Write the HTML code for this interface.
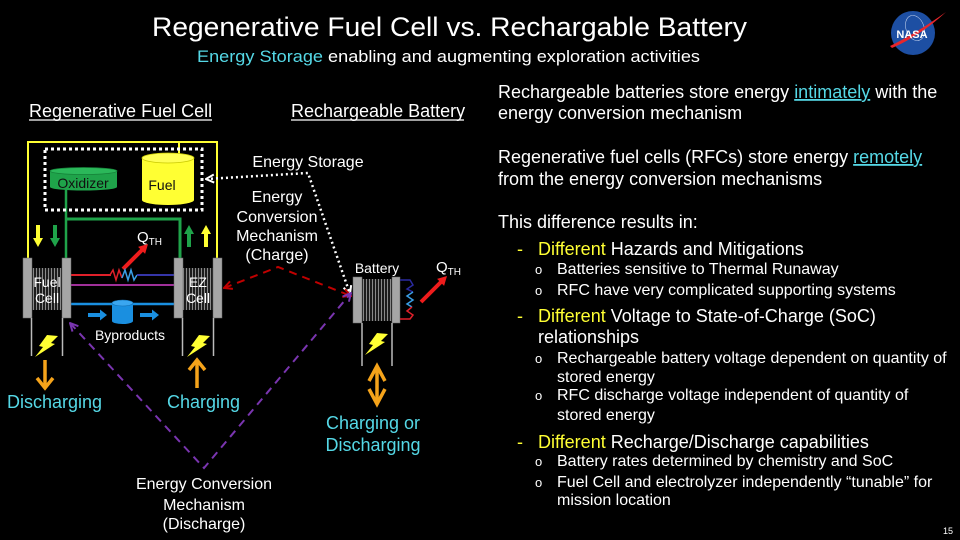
<!DOCTYPE html>
<html>
<head>
<meta charset="utf-8">
<style>
html,body{margin:0;padding:0;background:#000;}
svg{display:block;font-family:"Liberation Sans",Arial,sans-serif;}
</style>
</head>
<body>
<svg width="960" height="540" viewBox="0 0 960 540" xmlns="http://www.w3.org/2000/svg">
<defs>
  <pattern id="stripes" width="3" height="10" patternUnits="userSpaceOnUse">
    <rect width="3" height="10" fill="#1c1c1c"/>
    <rect x="0" width="1" height="10" fill="#8a8a8a"/>
  </pattern>
  <marker id="mw" viewBox="0 0 10 10" refX="9" refY="5" markerWidth="10" markerHeight="10" markerUnits="userSpaceOnUse" orient="auto-start-reverse">
    <path d="M1,1 L9,5 L1,9" fill="none" stroke="#fff" stroke-width="2"/>
  </marker>
  <marker id="mr" viewBox="0 0 10 10" refX="9" refY="5" markerWidth="10" markerHeight="10" markerUnits="userSpaceOnUse" orient="auto-start-reverse">
    <path d="M1,1 L9,5 L1,9" fill="none" stroke="#c00000" stroke-width="2"/>
  </marker>
  <marker id="mp" viewBox="0 0 10 10" refX="9" refY="5" markerWidth="10" markerHeight="10" markerUnits="userSpaceOnUse" orient="auto-start-reverse">
    <path d="M1,1 L9,5 L1,9" fill="none" stroke="#7a35b0" stroke-width="2"/>
  </marker>
</defs>

<rect width="960" height="540" fill="#000"/>

<!-- Title -->
<text x="152" y="36" font-size="27" fill="#fff" textLength="595" lengthAdjust="spacingAndGlyphs">Regenerative Fuel Cell vs. Rechargable Battery</text>
<text x="197" y="62" font-size="17" fill="#fff" textLength="503" lengthAdjust="spacingAndGlyphs"><tspan fill="#55d8e6">Energy Storage</tspan> enabling and augmenting exploration activities</text>

<!-- NASA logo -->
<circle cx="913" cy="33" r="22" fill="#1d4fa3"/>
<ellipse cx="915" cy="28" rx="9" ry="13" fill="none" stroke="#b8c8e8" stroke-width="0.6" transform="rotate(-20 915 28)"/>
<path d="M890 46 Q915 34 946 12 Q920 36 892 48 Z" fill="#e8262b"/>
<text x="912" y="38" font-size="11" font-weight="bold" fill="#fff" text-anchor="middle">NASA</text>

<!-- Left headings -->
<text x="29" y="117" font-size="18" fill="#fff">Regenerative Fuel Cell</text>
<line x1="29" y1="120" x2="212" y2="120" stroke="#fff" stroke-width="1.3"/>
<text x="291" y="117" font-size="18" fill="#fff">Rechargeable Battery</text>
<line x1="291" y1="120" x2="464" y2="120" stroke="#fff" stroke-width="1.3"/>

<!-- Yellow outer loop -->
<polyline points="28,258 28,142 217,142 217,258" fill="none" stroke="#ffff33" stroke-width="2"/>
<line x1="179" y1="142" x2="179" y2="154" stroke="#ffff33" stroke-width="2"/>

<!-- Green lines -->
<line x1="66" y1="188" x2="66" y2="258" stroke="#1fa34a" stroke-width="2.5"/>
<polyline points="66,219 180,219 180,258" fill="none" stroke="#1fa34a" stroke-width="3"/>

<!-- Dotted storage box -->
<rect x="45" y="149" width="157" height="61" fill="none" stroke="#fff" stroke-width="3" stroke-dasharray="3 3"/>

<!-- Oxidizer cylinder -->
<rect x="50" y="171" width="67" height="16" fill="#1fa34a"/>
<ellipse cx="83.5" cy="187" rx="33.5" ry="3.5" fill="#1fa34a"/>
<ellipse cx="83.5" cy="171" rx="33.5" ry="3.5" fill="#2bb85a" stroke="#158038" stroke-width="0.8"/>
<text x="83" y="188" font-size="14" fill="#111" text-anchor="middle">Oxidizer</text>

<!-- Fuel cylinder -->
<rect x="142" y="158" width="52" height="42" fill="#ffff33"/>
<ellipse cx="168" cy="200" rx="26" ry="5" fill="#ffff33"/>
<ellipse cx="168" cy="158" rx="26" ry="5" fill="#ffff55" stroke="#c9c900" stroke-width="0.8"/>
<text x="162" y="190" font-size="14" fill="#111" text-anchor="middle">Fuel</text>

<!-- small arrows -->
<rect x="36" y="225" width="4" height="14" fill="#ffff33"/>
<polygon points="33,238 43,238 38,247" fill="#ffff33"/>
<rect x="53" y="225" width="4" height="14" fill="#1fa34a"/>
<polygon points="50,238 60,238 55,247" fill="#1fa34a"/>
<rect x="187" y="233" width="4" height="14" fill="#1fa34a"/>
<polygon points="184,234 194,234 189,225" fill="#1fa34a"/>
<rect x="204" y="233" width="4" height="14" fill="#ffff33"/>
<polygon points="201,234 211,234 206,225" fill="#ffff33"/>

<!-- Q_TH left -->
<text x="137" y="242" font-size="15" fill="#fff">Q<tspan font-size="10" dy="3">TH</tspan></text>
<line x1="123" y1="269" x2="142" y2="250" stroke="#ee1c1c" stroke-width="4"/>
<polygon points="148,244 145.1,253.9 138.1,246.9" fill="#ee1c1c"/>

<!-- Lines between cells -->
<line x1="71" y1="275" x2="111" y2="275" stroke="#e0202a" stroke-width="2"/>
<polyline points="110,275 113,270 116,280 119,270 122,278" fill="none" stroke="#e0202a" stroke-width="1.5"/>
<polyline points="122,278 125,270 128,280 131,270 134,280 137,275" fill="none" stroke="#3a9fe6" stroke-width="1.5"/>
<line x1="137" y1="275" x2="174" y2="275" stroke="#3535a8" stroke-width="2"/>
<line x1="71" y1="285" x2="174" y2="285" stroke="#a0309a" stroke-width="2"/>
<line x1="71" y1="304" x2="174" y2="304" stroke="#1a8fe0" stroke-width="2.5"/>

<!-- Byproducts cylinder -->
<rect x="112" y="303" width="21" height="18" fill="#1a8fe0"/>
<ellipse cx="122.5" cy="321" rx="10.5" ry="3" fill="#1a8fe0"/>
<ellipse cx="122.5" cy="303" rx="10.5" ry="3" fill="#3aa6f0" stroke="#106cb0" stroke-width="0.6"/>
<rect x="88" y="313" width="12" height="4" fill="#1a8fe0"/>
<polygon points="100,309.5 100,320.5 107,315" fill="#1a8fe0"/>
<rect x="140" y="313" width="12" height="4" fill="#1a8fe0"/>
<polygon points="152,309.5 152,320.5 159,315" fill="#1a8fe0"/>
<text x="130" y="340" font-size="14" fill="#fff" text-anchor="middle">Byproducts</text>

<!-- Fuel cell -->
<rect x="32" y="268" width="30" height="42" fill="url(#stripes)"/>
<rect x="23" y="258" width="9" height="60" fill="#a6a6a6" stroke="#666" stroke-width="0.5"/>
<rect x="62" y="258" width="9" height="60" fill="#a6a6a6" stroke="#666" stroke-width="0.5"/>
<line x1="31.5" y1="318" x2="31.5" y2="356" stroke="#bbb" stroke-width="1.5"/>
<line x1="62.5" y1="318" x2="62.5" y2="356" stroke="#bbb" stroke-width="1.5"/>
<text x="47" y="287" font-size="14" fill="#fff" text-anchor="middle">Fuel</text>
<text x="47" y="303" font-size="14" fill="#fff" text-anchor="middle">Cell</text>

<!-- EZ cell -->
<rect x="183" y="268" width="30" height="42" fill="url(#stripes)"/>
<rect x="174" y="258" width="9" height="60" fill="#a6a6a6" stroke="#666" stroke-width="0.5"/>
<rect x="213" y="258" width="9" height="60" fill="#a6a6a6" stroke="#666" stroke-width="0.5"/>
<line x1="182.5" y1="318" x2="182.5" y2="356" stroke="#bbb" stroke-width="1.5"/>
<line x1="213.5" y1="318" x2="213.5" y2="356" stroke="#bbb" stroke-width="1.5"/>
<text x="198" y="287" font-size="14" fill="#fff" text-anchor="middle">EZ</text>
<text x="198" y="303" font-size="14" fill="#fff" text-anchor="middle">Cell</text>

<!-- Lightning bolts -->
<polygon transform="translate(35,335)" points="12,0 23,1 16,8 20,9 0,22 8,12 4,11" fill="#ffff33"/>
<polygon transform="translate(187,335)" points="12,0 23,1 16,8 20,9 0,22 8,12 4,11" fill="#ffff33"/>
<polygon transform="translate(365,333)" points="12,0 23,1 16,8 20,9 0,22 8,12 4,11" fill="#ffff33"/>

<!-- Orange arrows -->
<line x1="45" y1="360" x2="45" y2="386" stroke="#f5a31a" stroke-width="3.5"/>
<polyline points="37,378 45,388 53,378" fill="none" stroke="#f5a31a" stroke-width="3.5"/>
<line x1="197" y1="362" x2="197" y2="388" stroke="#f5a31a" stroke-width="3.5"/>
<polyline points="189,370 197,360 205,370" fill="none" stroke="#f5a31a" stroke-width="3.5"/>
<line x1="377" y1="367" x2="377" y2="403" stroke="#f5a31a" stroke-width="3.5"/>
<polyline points="369,381 377,366 385,381" fill="none" stroke="#f5a31a" stroke-width="3.5"/>
<polyline points="369,389 377,404 385,389" fill="none" stroke="#f5a31a" stroke-width="3.5"/>

<text x="7" y="408" font-size="18" fill="#55d8e6">Discharging</text>
<text x="167" y="408" font-size="18" fill="#55d8e6">Charging</text>
<text x="373" y="429" font-size="18" fill="#55d8e6" text-anchor="middle">Charging or</text>
<text x="373" y="451" font-size="18" fill="#55d8e6" text-anchor="middle">Discharging</text>

<!-- Battery -->
<rect x="362" y="279" width="30" height="42" fill="url(#stripes)"/>
<rect x="353" y="277" width="9" height="46" fill="#a6a6a6" stroke="#666" stroke-width="0.5"/>
<rect x="392" y="277" width="8" height="46" fill="#a6a6a6" stroke="#666" stroke-width="0.5"/>
<line x1="362" y1="323" x2="362" y2="366" stroke="#bbb" stroke-width="1.5"/>
<line x1="392" y1="323" x2="392" y2="366" stroke="#bbb" stroke-width="1.5"/>
<text x="377" y="273" font-size="14" fill="#fff" text-anchor="middle">Battery</text>
<polyline points="400,280 410,280 413,285 407,289 413,292" fill="none" stroke="#2a2aa0" stroke-width="1.5"/>
<polyline points="413,292 407,296 413,300 407,304 412,307" fill="none" stroke="#3a9fe6" stroke-width="1.5"/>
<polyline points="412,307 407,311 413,315 410,319 400,319" fill="none" stroke="#e0202a" stroke-width="1.5"/>
<text x="436" y="272" font-size="15" fill="#fff">Q<tspan font-size="10" dy="3">TH</tspan></text>
<line x1="421" y1="302" x2="441" y2="282" stroke="#ee1c1c" stroke-width="4"/>
<polygon points="447,276 444.1,285.9 437.1,278.9" fill="#ee1c1c"/>

<!-- Connectors -->
<polyline points="206,179 308,173 350,294" fill="none" stroke="#fff" stroke-width="2.5" stroke-dasharray="2 3" marker-start="url(#mw)" marker-end="url(#mw)"/>
<polyline points="224,288 278,267 351,296" fill="none" stroke="#c00000" stroke-width="2" stroke-dasharray="8 6" marker-start="url(#mr)" marker-end="url(#mr)"/>
<polyline points="70,323 204,468 351,293" fill="none" stroke="#7a35b0" stroke-width="2" stroke-dasharray="8 6" marker-start="url(#mp)" marker-end="url(#mp)"/>

<!-- connector labels -->
<text x="308" y="167" font-size="16" fill="#fff" text-anchor="middle">Energy Storage</text>
<text x="277" y="202" font-size="16" fill="#fff" text-anchor="middle">Energy</text>
<text x="277" y="222" font-size="16" fill="#fff" text-anchor="middle">Conversion</text>
<text x="277" y="241" font-size="16" fill="#fff" text-anchor="middle">Mechanism</text>
<text x="277" y="260" font-size="16" fill="#fff" text-anchor="middle">(Charge)</text>
<text x="204" y="489" font-size="16" fill="#fff" text-anchor="middle">Energy Conversion</text>
<text x="204" y="510" font-size="16" fill="#fff" text-anchor="middle">Mechanism</text>
<text x="204" y="529" font-size="16" fill="#fff" text-anchor="middle">(Discharge)</text>

<!-- Right column -->
<g font-size="18" fill="#fff">
  <text x="498" y="98">Rechargeable batteries store energy <tspan fill="#55d8e6" text-decoration="underline">intimately</tspan> with the</text>
  <text x="498" y="119">energy conversion mechanism</text>
  <text x="498" y="163">Regenerative fuel cells (RFCs) store energy <tspan fill="#55d8e6" text-decoration="underline">remotely</tspan></text>
  <text x="498" y="185">from the energy conversion mechanisms</text>
  <text x="498" y="228">This difference results in:</text>
  <text x="517" y="255" fill="#ffff33">-</text>
  <text x="538" y="255"><tspan fill="#ffff33">Different</tspan> Hazards and Mitigations</text>
  <text x="517" y="322" fill="#ffff33">-</text>
  <text x="538" y="322"><tspan fill="#ffff33">Different</tspan> Voltage to State-of-Charge (SoC)</text>
  <text x="538" y="343">relationships</text>
  <text x="517" y="448" fill="#ffff33">-</text>
  <text x="538" y="448"><tspan fill="#ffff33">Different</tspan> Recharge/Discharge capabilities</text>
</g>
<g font-size="16" fill="#fff">
  <text x="535" y="274" font-size="13">o</text>
  <text x="557" y="274">Batteries sensitive to Thermal Runaway</text>
  <text x="535" y="295" font-size="13">o</text>
  <text x="557" y="295">RFC have very complicated supporting systems</text>
  <text x="535" y="363" font-size="13">o</text>
  <text x="557" y="363">Rechargeable battery voltage dependent on quantity of</text>
  <text x="557" y="382">stored energy</text>
  <text x="535" y="400" font-size="13">o</text>
  <text x="557" y="400">RFC discharge voltage independent of quantity of</text>
  <text x="557" y="420">stored energy</text>
  <text x="535" y="466" font-size="13">o</text>
  <text x="557" y="466">Battery rates determined by chemistry and SoC</text>
  <text x="535" y="487" font-size="13">o</text>
  <text x="557" y="487">Fuel Cell and electrolyzer independently “tunable” for</text>
  <text x="557" y="505">mission location</text>
</g>
<text x="948" y="534" font-size="9" fill="#fff" text-anchor="middle">15</text>
</svg>
</body>
</html>
